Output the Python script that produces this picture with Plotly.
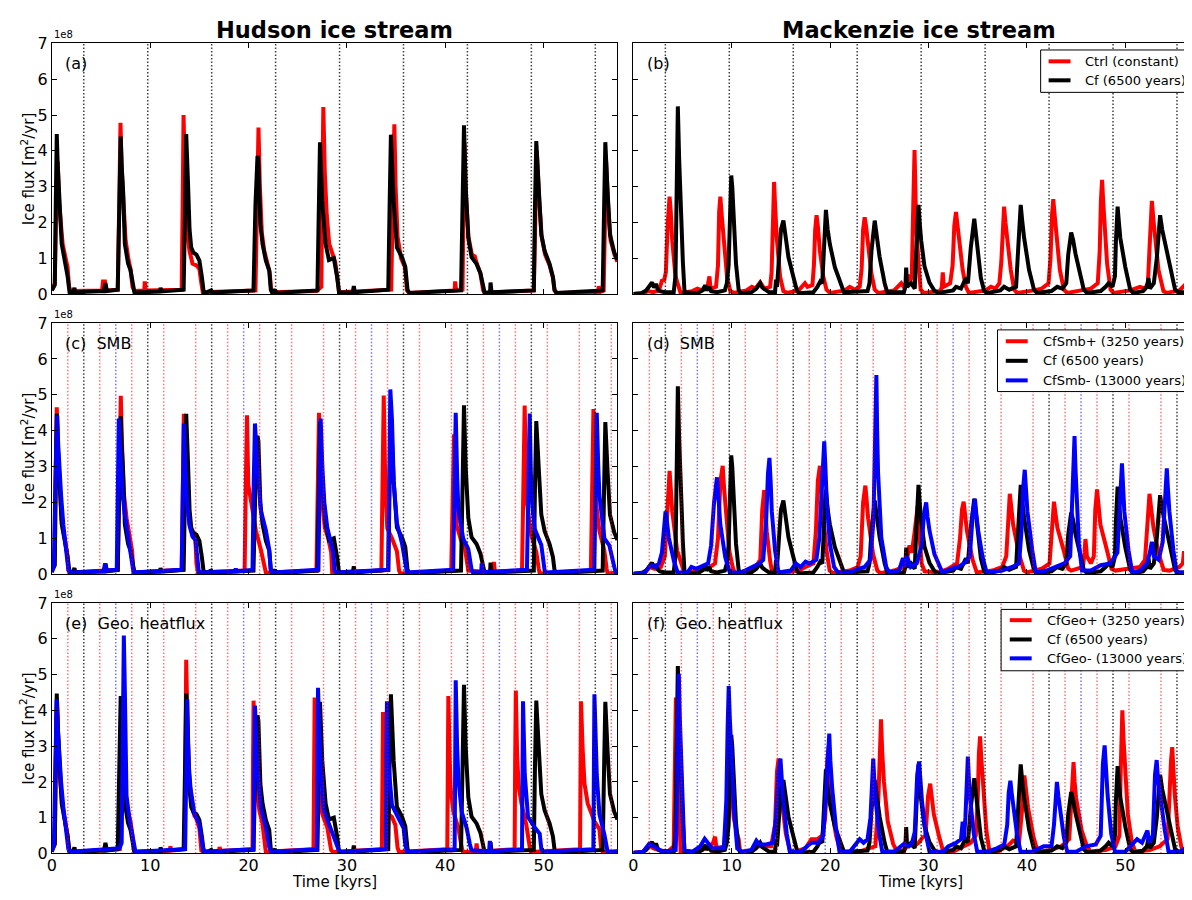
import plotly.graph_objects as go

FONT = "DejaVu Sans"

# ---------------- data: (time [kyr], ice flux [1e8 m^2/yr]) ----------------
HUD_CF = [
    (0.0, 0.10), (0.15, 0.2), (0.3, 0.25), (0.4, 2.5), (0.5, 4.47), (0.6, 3.6), (0.67, 3.2), (0.84, 2.1),
    (1.0, 1.4), (1.2, 1.1), (1.4, 0.85), (1.6, 0.5), (1.8, 0.05), (2.1, 0.03), (2.3, 0.17), (2.4, 0.04),
    (3.5, 0.06), (5.3, 0.08), (5.45, 0.3), (5.6, 0.08), (6.7, 0.12),
    (6.85, 2.0), (7.0, 4.40), (7.1, 3.6), (7.25, 2.85), (7.42, 1.4), (7.75, 0.85), (8.0, 0.66), (8.26, 0.12),
    (8.4, 0.04), (11.0, 0.07), (11.05, 0.17), (11.15, 0.07), (13.4, 0.12),
    (13.55, 2.5), (13.66, 4.47), (13.83, 3.2), (14.0, 1.8), (14.17, 1.3), (14.4, 1.15), (14.7, 1.1), (15.0, 0.93),
    (15.25, 0.48), (15.45, 0.03), (15.8, 0.05), (16.2, 0.1), (16.3, 0.04), (20.5, 0.1),
    (20.7, 2.5), (20.91, 3.86), (21.0, 3.7), (21.2, 1.95), (21.42, 1.4), (21.76, 0.93), (22.1, 0.66), (22.26, 0.12),
    (22.4, 0.03), (22.7, 0.12), (22.8, 0.03), (27.0, 0.1),
    (27.15, 2.5), (27.26, 4.24), (27.49, 2.6), (27.83, 1.4), (28.17, 0.95), (28.67, 1.0), (29.0, 0.48), (29.2, 0.04),
    (30.6, 0.05), (30.7, 0.22), (30.8, 0.05), (34.2, 0.12),
    (34.34, 2.5), (34.47, 4.45), (34.75, 2.6), (35.08, 1.3), (35.59, 1.03), (35.93, 0.76), (36.16, 0.12), (36.35, 0.03),
    (41.6, 0.1),
    (41.75, 2.5), (41.9, 4.71), (42.07, 3.0), (42.34, 1.57), (42.67, 1.03), (43.18, 0.84), (43.58, 0.57), (43.86, 0.12),
    (44.0, 0.03), (44.55, 0.05), (44.6, 0.32), (44.7, 0.05), (49.0, 0.1),
    (49.12, 2.5), (49.25, 4.27), (49.52, 2.85), (49.76, 1.66), (50.1, 1.2), (50.6, 0.84), (50.94, 0.48), (51.1, 0.12),
    (51.3, 0.03), (56.0, 0.1),
    (56.15, 2.5), (56.27, 4.24), (56.5, 2.85), (56.74, 1.66), (57.18, 1.16), (57.5, 0.95),
]

HUD_CTRL = [
    (0.0, 0.1), (0.3, 0.3), (0.45, 2.5), (0.6, 3.7), (0.75, 2.5), (0.9, 1.9), (1.1, 1.4), (1.4, 1.0), (1.6, 0.75),
    (1.75, 0.2), (1.9, 0.1), (2.2, 0.08), (5.1, 0.1), (5.2, 0.35), (5.4, 0.35), (5.5, 0.1), (6.7, 0.12),
    (6.85, 2.5), (6.98, 4.78), (7.1, 3.5), (7.3, 2.2), (7.5, 1.5), (7.8, 0.95), (8.0, 0.7), (8.2, 0.2), (8.4, 0.08),
    (9.4, 0.1), (9.45, 0.35), (9.55, 0.1), (13.2, 0.12),
    (13.3, 2.5), (13.39, 5.0), (13.55, 3.0), (13.8, 1.6), (14.0, 1.2), (14.3, 0.85), (14.7, 0.8), (15.0, 0.7),
    (15.2, 0.3), (15.35, 0.05), (20.7, 0.1),
    (20.85, 2.5), (21.01, 4.65), (21.15, 3.0), (21.35, 1.7), (21.6, 1.2), (21.9, 0.9), (22.15, 0.6), (22.3, 0.1),
    (22.5, 0.05), (26.9, 0.08),
    (27.4, 0.2), (27.5, 3.0), (27.6, 5.22), (27.75, 3.4), (27.95, 2.2), (28.2, 1.4), (28.5, 1.1), (28.8, 0.9),
    (29.05, 0.4), (29.2, 0.05), (34.5, 0.12),
    (34.65, 2.5), (34.82, 4.74), (34.95, 3.0), (35.15, 1.6), (35.5, 1.0), (35.9, 0.75), (36.1, 0.1), (36.3, 0.03),
    (40.95, 0.1), (41.0, 0.35), (41.1, 0.1), (41.75, 0.12),
    (41.85, 2.5), (41.95, 4.2), (42.1, 2.8), (42.35, 1.6), (42.7, 1.1), (43.0, 1.05), (43.2, 0.85), (43.55, 0.6),
    (43.85, 0.1), (44.0, 0.03), (49.0, 0.1),
    (49.15, 2.5), (49.3, 4.0), (49.55, 2.6), (49.8, 1.6), (50.15, 1.1), (50.6, 0.8), (50.95, 0.45), (51.1, 0.1),
    (51.3, 0.03), (55.55, 0.05), (55.6, 0.22), (55.7, 0.05), (56.1, 0.1),
    (56.2, 2.5), (56.35, 3.7), (56.55, 2.5), (56.8, 1.5), (57.2, 1.1), (57.5, 0.9),
]

HUD_SMBP = [
    (0.0, 0.1), (0.25, 0.3), (0.4, 3.0), (0.5, 4.65), (0.65, 3.3), (0.8, 2.3), (1.0, 1.5), (1.3, 1.0), (1.55, 0.6),
    (1.7, 0.1), (1.9, 0.05), (6.7, 0.12),
    (6.85, 2.5), (7.01, 4.97), (7.15, 3.5), (7.3, 2.3), (7.6, 1.56), (7.9, 1.0), (8.16, 0.65), (8.26, 0.2), (8.4, 0.05),
    (13.2, 0.12),
    (13.3, 2.5), (13.42, 4.47), (13.55, 3.5), (13.75, 2.2), (14.0, 1.4), (14.3, 1.1), (14.6, 0.95), (14.7, 0.3),
    (14.85, 0.05), (19.6, 0.1),
    (19.72, 2.5), (19.84, 4.43), (19.97, 2.5), (20.4, 1.77), (20.74, 1.22), (21.25, 0.68), (21.6, 0.3), (21.76, 0.04),
    (26.9, 0.1),
    (27.03, 2.5), (27.16, 4.5), (27.3, 3.0), (27.5, 2.0), (27.75, 1.3), (28.1, 1.0), (28.4, 0.6), (28.5, 0.05),
    (33.5, 0.1),
    (33.62, 2.5), (33.74, 4.98), (33.9, 2.5), (34.1, 1.28), (34.58, 1.0), (35.08, 0.64), (35.3, 0.1), (35.42, 0.02),
    (40.6, 0.1),
    (40.75, 2.5), (40.89, 3.9), (41.0, 2.5), (41.16, 1.35), (41.6, 0.95), (42.0, 0.71), (42.34, 0.1), (44.85, 0.05),
    (44.94, 0.34), (45.05, 0.05), (47.8, 0.1),
    (47.95, 2.5), (48.07, 4.7), (48.18, 3.0), (48.3, 1.98), (48.75, 1.08), (49.25, 0.62), (49.5, 0.15), (49.6, 0.02),
    (54.8, 0.1),
    (54.93, 2.5), (55.06, 4.6), (55.2, 3.0), (55.4, 1.8), (55.67, 1.2), (56.17, 0.66), (56.4, 0.15), (56.5, 0.02),
    (57.5, 0.05),
]

HUD_SMBM = [
    (0.0, 0.05), (0.2, 0.2), (0.4, 3.0), (0.55, 4.43), (0.65, 3.6), (0.74, 3.1), (0.94, 2.2), (1.17, 1.37),
    (1.5, 0.65), (1.68, 0.12), (1.9, 0.05), (5.3, 0.08), (5.4, 0.3), (5.55, 0.1), (6.6, 0.12),
    (6.7, 2.5), (6.81, 4.34), (6.9, 3.8), (7.0, 3.1), (7.2, 2.2), (7.42, 1.67), (7.93, 0.75), (8.16, 0.2), (8.3, 0.05),
    (13.2, 0.12),
    (13.3, 2.5), (13.42, 4.2), (13.55, 3.2), (13.75, 2.0), (14.0, 1.35), (14.3, 1.05), (14.6, 0.95), (14.8, 0.3),
    (14.95, 0.05), (18.6, 0.08), (18.7, 0.15), (18.8, 0.08), (20.4, 0.12),
    (20.52, 2.5), (20.65, 4.2), (20.91, 2.96), (21.25, 1.77), (21.76, 1.22), (22.1, 0.68), (22.26, 0.12), (22.4, 0.05),
    (27.1, 0.12),
    (27.22, 2.5), (27.33, 4.34), (27.5, 3.0), (27.7, 2.0), (28.0, 1.3), (28.3, 1.0), (28.6, 0.6), (28.75, 0.1),
    (28.9, 0.05), (34.2, 0.12),
    (34.3, 2.5), (34.41, 5.15), (34.58, 4.3), (34.75, 2.6), (35.08, 1.42), (35.59, 0.87), (35.93, 0.33), (36.1, 0.05),
    (40.8, 0.12),
    (40.93, 2.5), (41.06, 4.5), (41.2, 2.8), (41.33, 1.8), (41.83, 0.98), (42.34, 0.7), (42.67, 0.13), (42.8, 0.05),
    (43.65, 0.06), (43.7, 0.3), (43.8, 0.06), (48.3, 0.12),
    (48.45, 2.5), (48.58, 4.48), (48.7, 2.8), (48.85, 1.9), (49.09, 1.26), (49.76, 0.81), (50.1, 0.1), (50.25, 0.05),
    (55.15, 0.12),
    (55.28, 2.5), (55.4, 4.5), (55.55, 3.0), (55.67, 2.2), (56.17, 1.0), (56.68, 0.8), (57.18, 0.2), (57.35, 0.02),
    (57.5, 0.05),
]

HUD_GEOP = [
    (0.0, 0.1), (0.3, 0.3), (0.42, 3.0), (0.52, 4.3), (0.65, 3.2), (0.85, 2.0), (1.1, 1.3), (1.4, 0.9), (1.6, 0.5),
    (1.75, 0.08), (2.0, 0.05), (6.9, 0.12),
    (7.0, 2.5), (7.12, 4.2), (7.25, 3.0), (7.45, 1.8), (7.7, 1.2), (8.0, 0.9), (8.2, 0.5), (8.35, 0.08), (8.6, 0.05),
    (12.0, 0.08), (12.05, 0.2), (12.15, 0.08), (13.5, 0.12),
    (13.58, 2.5), (13.66, 5.41), (13.8, 3.5), (13.95, 2.2), (14.2, 1.4), (14.5, 1.05), (14.67, 0.99), (15.0, 0.7),
    (15.2, 0.08), (15.4, 0.05), (17.0, 0.07), (17.05, 0.18), (17.15, 0.07), (20.4, 0.12),
    (20.45, 2.5), (20.51, 4.27), (20.65, 2.8), (20.85, 1.8), (21.1, 1.2), (21.4, 0.85), (21.6, 0.4), (21.75, 0.05),
    (26.6, 0.12),
    (26.65, 2.5), (26.72, 4.36), (26.85, 3.0), (27.1, 1.8), (27.5, 1.1), (28.0, 0.73), (28.4, 0.09), (28.6, 0.04),
    (33.55, 0.12),
    (33.6, 2.5), (33.67, 3.95), (33.84, 2.43), (33.97, 1.16), (34.58, 1.02), (34.92, 0.8), (35.15, 0.16), (35.3, 0.04),
    (40.2, 0.12),
    (40.25, 2.5), (40.31, 4.4), (40.45, 2.6), (40.55, 1.8), (40.82, 1.17), (41.33, 0.71), (41.66, 0.18), (41.8, 0.04),
    (43.1, 0.05), (43.18, 0.28), (43.28, 0.05), (47.05, 0.12),
    (47.1, 2.5), (47.17, 4.55), (47.3, 2.8), (47.45, 1.9), (47.74, 1.4), (48.24, 0.8), (48.58, 0.18), (48.7, 0.04),
    (53.7, 0.12),
    (53.75, 2.5), (53.8, 4.25), (53.95, 3.0), (54.15, 1.95), (54.48, 1.4), (55.16, 0.9), (55.67, 0.68), (55.83, 0.18),
    (56.0, 0.04), (57.5, 0.05),
]

HUD_GEOM = [
    (0.0, 0.05), (0.2, 0.2), (0.4, 3.0), (0.5, 4.31), (0.62, 3.4), (0.74, 2.8), (0.94, 2.0), (1.17, 1.3),
    (1.5, 0.65), (1.68, 0.12), (1.9, 0.05), (6.9, 0.15), (7.1, 0.3),
    (7.2, 3.0), (7.32, 6.09), (7.42, 4.6), (7.49, 3.81), (7.59, 1.62), (7.93, 0.89), (8.16, 0.53), (8.36, 0.18),
    (8.5, 0.05), (13.55, 0.12),
    (13.65, 2.5), (13.77, 4.31), (13.9, 2.55), (14.1, 1.82), (14.5, 1.1), (15.0, 0.82), (15.35, 0.18), (15.5, 0.05),
    (20.5, 0.12),
    (20.57, 2.5), (20.65, 4.13), (20.91, 2.37), (21.25, 1.28), (21.76, 0.73), (22.1, 0.18), (22.3, 0.05),
    (26.95, 0.12),
    (27.0, 2.5), (27.06, 4.63), (27.2, 3.4), (27.33, 2.38), (27.66, 1.2), (28.33, 0.73), (28.84, 0.36), (29.17, 0.09),
    (29.4, 0.05), (33.95, 0.12),
    (34.0, 2.5), (34.07, 4.25), (34.24, 2.43), (34.58, 1.35), (35.25, 0.98), (35.76, 0.71), (35.93, 0.26), (36.1, 0.05),
    (40.95, 0.12),
    (41.0, 2.5), (41.06, 4.84), (41.2, 3.0), (41.33, 2.1), (41.66, 1.17), (42.17, 0.71), (42.5, 0.26), (42.67, 0.09),
    (44.45, 0.06), (44.53, 0.35), (44.62, 0.06), (47.8, 0.12),
    (47.85, 2.5), (47.9, 4.25), (48.08, 2.2), (48.41, 1.02), (49.09, 0.73), (49.6, 0.55), (49.76, 0.13), (49.9, 0.05),
    (55.05, 0.12),
    (55.1, 2.5), (55.16, 4.45), (55.4, 2.2), (55.67, 1.1), (56.17, 0.53), (56.34, 0.18), (56.5, 0.05), (57.5, 0.06),
]

MAC_CF = [
    (0.0, 0.0), (0.8, 0.02), (1.3, 0.1), (1.6, 0.21), (1.9, 0.32), (2.1, 0.18), (2.3, 0.28), (2.5, 0.12), (2.7, 0.08),
    (3.2, 0.05), (4.1, 0.05),
    (4.28, 0.5), (4.4, 3.0), (4.52, 5.24), (4.65, 3.8), (4.79, 2.5), (5.03, 0.9), (5.2, 0.05), (6.5, 0.02), (7.0, 0.1),
    (7.32, 0.24), (7.45, 0.1), (7.7, 0.2), (7.9, 0.08), (8.5, 0.05), (9.3, 0.1), (9.5, 0.3),
    (9.68, 0.8), (9.82, 2.5), (9.95, 3.31), (10.05, 3.0), (10.19, 1.94), (10.43, 0.85), (10.7, 0.12), (10.9, 0.02),
    (12.0, 0.05), (12.5, 0.15), (12.89, 0.3), (13.1, 0.18), (13.4, 0.12), (13.8, 0.05), (14.4, 0.05),
    (14.5, 0.4), (14.6, 0.2), (14.8, 1.0), (15.0, 1.8), (15.25, 2.05), (15.45, 1.6), (15.76, 1.03), (16.26, 0.48),
    (16.6, 0.12), (16.8, 0.02), (18.3, 0.05), (18.7, 0.2), (19.0, 0.35), (19.2, 0.3),
    (19.35, 1.2), (19.57, 2.35), (19.75, 1.8), (19.97, 1.39), (20.48, 0.75), (21.15, 0.2), (21.4, 0.05), (23.8, 0.08),
    (24.0, 0.3),
    (24.2, 1.2), (24.53, 2.05), (24.75, 1.6), (25.03, 1.03), (25.54, 0.3), (25.8, 0.05), (27.5, 0.05), (27.65, 0.2),
    (27.73, 0.74), (27.82, 0.2), (28.24, 0.3), (28.6, 0.15),
    (28.75, 1.2), (28.98, 2.49), (29.1, 2.0), (29.25, 1.5), (29.59, 0.77), (30.09, 0.32), (30.6, 0.09), (31.0, 0.03),
    (32.5, 0.1), (32.8, 0.2), (33.3, 0.15), (33.8, 0.44), (34.0, 0.3),
    (34.3, 1.3), (34.65, 2.1), (34.8, 1.7), (34.99, 1.16), (35.32, 0.44), (35.66, 0.08), (36.0, 0.03), (37.3, 0.1),
    (37.68, 0.2), (38.2, 0.12), (38.9, 0.2),
    (39.1, 1.2), (39.37, 2.49), (39.5, 2.1), (39.71, 1.58), (40.22, 0.67), (40.72, 0.12), (41.0, 0.03), (42.5, 0.08),
    (43.08, 0.2), (43.6, 0.15), (44.0, 0.3),
    (44.2, 1.1), (44.5, 1.72), (44.7, 1.5), (44.94, 1.12), (45.45, 0.49), (45.78, 0.12), (46.1, 0.03), (47.5, 0.08),
    (48.0, 0.2), (48.31, 0.3), (48.7, 0.2), (48.95, 0.5),
    (49.05, 1.5), (49.22, 2.44), (49.35, 2.0), (49.49, 1.57), (50.0, 0.75), (50.5, 0.12), (50.8, 0.03), (51.8, 0.08),
    (52.2, 0.2), (52.36, 0.44), (52.5, 0.15), (52.9, 0.3), (53.2, 1.0),
    (53.54, 2.2), (53.75, 1.8), (54.05, 1.39), (54.56, 0.67), (55.06, 0.12), (55.4, 0.05), (56.8, 0.05),
]

MAC_CTRL = [
    (0.0, 0.0), (1.0, 0.02), (1.5, 0.08), (2.0, 0.05), (2.6, 0.1), (2.94, 0.4), (3.1, 0.35), (3.3, 0.6),
    (3.5, 2.0), (3.68, 2.72), (3.8, 2.3), (3.95, 1.49), (4.28, 0.49), (4.62, 0.12), (4.8, 0.03), (6.0, 0.08),
    (6.5, 0.15), (7.0, 0.1), (7.5, 0.15), (7.73, 0.49), (7.85, 0.15), (8.4, 0.2), (8.6, 0.8),
    (8.72, 2.3), (8.84, 2.72), (8.98, 2.2), (9.18, 1.49), (9.52, 0.49), (9.85, 0.08), (10.2, 0.03), (11.5, 0.1),
    (12.04, 0.2), (12.4, 0.15), (12.89, 0.33), (13.3, 0.15), (13.9, 0.2), (14.05, 0.6),
    (14.18, 2.5), (14.3, 3.13), (14.42, 2.4), (14.57, 1.58), (14.91, 0.49), (15.25, 0.08), (15.6, 0.03), (16.8, 0.1),
    (17.44, 0.3), (17.7, 0.2), (18.2, 0.25), (18.35, 0.8),
    (18.48, 1.8), (18.62, 2.2), (18.75, 1.9), (18.96, 1.21), (19.3, 0.49), (19.63, 0.12), (20.0, 0.03), (21.5, 0.1),
    (22.0, 0.2), (22.5, 0.12), (23.0, 0.2), (23.2, 0.7),
    (23.35, 1.8), (23.51, 2.14), (23.65, 1.9), (23.86, 1.39), (24.19, 0.58), (24.53, 0.12), (24.9, 0.03), (26.5, 0.1),
    (27.23, 0.3), (27.6, 0.15), (27.96, 0.54), (28.1, 0.3), (28.3, 0.5),
    (28.45, 2.5), (28.58, 4.02), (28.66, 3.0), (28.74, 1.94), (28.98, 0.85), (29.2, 0.12), (29.5, 0.03), (31.2, 0.08),
    (31.35, 0.2), (31.45, 0.6), (31.55, 0.2), (32.2, 0.3), (32.45, 0.8),
    (32.62, 1.9), (32.79, 2.29), (32.95, 1.9), (33.13, 1.49), (33.47, 0.67), (33.8, 0.2), (34.1, 0.03), (35.8, 0.1),
    (36.34, 0.2), (36.8, 0.15), (37.2, 0.3), (37.4, 0.9),
    (37.55, 2.0), (37.68, 2.44), (37.82, 2.0), (38.03, 1.49), (38.36, 0.67), (38.7, 0.12), (39.0, 0.03), (40.7, 0.1),
    (41.5, 0.15), (42.2, 0.3), (42.4, 1.0),
    (42.55, 2.2), (42.68, 2.65), (42.82, 2.2), (43.02, 1.58), (43.35, 0.67), (43.76, 0.12), (44.1, 0.03), (45.5, 0.1),
    (46.5, 0.15), (47.2, 0.3), (47.4, 1.2),
    (47.52, 2.6), (47.64, 3.19), (47.75, 2.6), (47.87, 1.94), (48.15, 0.85), (48.5, 0.12), (48.8, 0.03), (50.5, 0.1),
    (51.5, 0.2), (52.0, 0.15), (52.3, 0.3), (52.45, 1.2),
    (52.58, 2.2), (52.7, 2.6), (52.85, 2.1), (53.04, 1.58), (53.37, 0.67), (53.88, 0.08), (54.2, 0.03), (55.5, 0.1),
    (56.24, 0.3), (56.5, 0.15), (56.8, 0.1),
]

MAC_SMBP = [
    (0.0, 0.0), (1.2, 0.05), (1.6, 0.2), (2.2, 0.15), (2.8, 0.2), (3.2, 0.5), (3.4, 1.5),
    (3.55, 2.5), (3.68, 2.88), (3.8, 2.4), (3.95, 1.75), (4.45, 0.66), (4.96, 0.2), (5.2, 0.03), (6.5, 0.08),
    (7.5, 0.15), (8.3, 0.3), (8.6, 1.0),
    (8.85, 2.6), (9.08, 3.02), (9.22, 2.4), (9.41, 1.65), (9.75, 0.65), (10.09, 0.2), (10.3, 0.03), (11.5, 0.1),
    (12.4, 0.2), (12.9, 0.4),
    (13.1, 1.8), (13.3, 2.34), (13.42, 1.8), (13.56, 1.19), (13.9, 0.37), (14.1, 0.05), (15.5, 0.05), (16.8, 0.1),
    (17.5, 0.2), (18.3, 0.3), (18.55, 1.2),
    (18.75, 2.6), (18.96, 3.02), (19.06, 2.6), (19.2, 1.93), (19.64, 0.65), (19.95, 0.1), (20.3, 0.03), (22.0, 0.1),
    (22.8, 0.2), (23.1, 0.5),
    (23.35, 2.0), (23.58, 2.47), (23.7, 2.1), (23.86, 1.56), (24.36, 0.56), (24.8, 0.1), (25.1, 0.03), (26.5, 0.1),
    (27.5, 0.2), (27.8, 0.4), (28.07, 0.8), (28.3, 0.6),
    (28.6, 1.2), (28.9, 1.9), (29.1, 1.0), (29.3, 0.3), (29.6, 0.08), (31.0, 0.05), (32.0, 0.15), (32.9, 0.3),
    (33.2, 1.0),
    (33.4, 1.8), (33.57, 2.02), (33.72, 1.7), (33.9, 1.21), (34.48, 0.4), (34.9, 0.05), (36.5, 0.1), (37.5, 0.2),
    (37.9, 0.5),
    (38.1, 1.8), (38.26, 2.24), (38.4, 1.9), (38.6, 1.38), (39.2, 0.56), (39.7, 0.1), (40.0, 0.05), (41.5, 0.15),
    (42.3, 0.3), (42.5, 1.0),
    (42.62, 1.7), (42.75, 2.02), (42.9, 1.7), (43.1, 1.29), (43.75, 0.65), (44.2, 0.15), (44.5, 0.1), (45.7, 0.2),
    (45.85, 0.6), (45.95, 0.98), (46.1, 0.5), (46.5, 0.3), (46.8, 0.5),
    (46.95, 1.8), (47.13, 2.36), (47.28, 1.9), (47.47, 1.38), (48.15, 0.65), (48.6, 0.15), (49.0, 0.1), (50.5, 0.15),
    (51.5, 0.2), (52.0, 0.4), (52.2, 1.2),
    (52.33, 1.9), (52.46, 2.24), (52.6, 1.9), (52.87, 1.29), (53.4, 0.56), (53.9, 0.12), (54.5, 0.1), (55.5, 0.2),
    (55.85, 0.3), (55.97, 0.64), (56.1, 0.3), (56.4, 0.5), (56.6, 1.2), (56.8, 2.0),
]

MAC_SMBM = [
    (0.0, 0.02), (1.2, 0.05), (1.6, 0.2), (1.9, 0.25), (2.3, 0.2), (2.6, 0.3), (2.9, 0.6),
    (3.1, 1.4), (3.27, 1.75), (3.4, 1.5), (3.6, 1.02), (4.12, 0.37), (4.5, 0.05), (5.5, 0.05), (5.9, 0.2),
    (6.4, 0.15), (7.1, 0.25), (7.6, 0.3), (7.9, 0.8),
    (8.2, 2.0), (8.5, 2.7), (8.65, 2.2), (8.84, 1.38), (9.34, 0.47), (9.8, 0.05), (11.0, 0.05), (12.2, 0.2),
    (12.8, 0.3), (13.2, 0.4), (13.5, 1.5),
    (13.68, 2.8), (13.83, 3.24), (13.95, 2.6), (14.07, 1.75), (14.4, 0.66), (14.75, 0.05), (16.0, 0.1), (16.5, 0.3),
    (17.0, 0.2), (17.5, 0.35), (17.9, 0.3), (18.6, 0.4), (18.9, 1.0),
    (19.2, 3.0), (19.4, 3.7), (19.5, 3.1), (19.64, 2.12), (19.97, 0.85), (20.4, 0.2), (20.8, 0.05), (22.0, 0.05),
    (22.9, 0.15), (23.5, 0.2), (24.1, 0.4), (24.4, 1.5),
    (24.55, 3.5), (24.7, 5.55), (24.78, 4.0), (24.87, 2.84), (25.2, 1.02), (25.7, 0.2), (26.0, 0.05), (27.0, 0.1),
    (27.4, 0.45), (27.6, 0.2), (27.8, 0.5), (28.2, 0.2), (28.8, 0.3), (29.3, 0.8),
    (29.55, 1.7), (29.76, 2.0), (29.9, 1.6), (30.1, 1.21), (30.6, 0.56), (31.1, 0.2), (31.4, 0.05), (32.3, 0.15),
    (33.0, 0.2), (33.6, 0.3), (34.2, 0.5),
    (34.5, 1.7), (34.72, 2.1), (34.85, 1.7), (35.05, 1.21), (35.5, 0.47), (35.9, 0.05), (37.5, 0.1), (38.5, 0.2),
    (39.2, 0.3), (39.45, 1.2),
    (39.62, 2.4), (39.78, 2.91), (39.9, 2.4), (40.05, 1.75), (40.55, 0.66), (40.9, 0.05), (42.0, 0.1), (43.0, 0.2),
    (43.8, 0.3), (44.4, 0.5), (44.6, 2.0),
    (44.75, 3.3), (44.84, 3.85), (44.93, 3.0), (45.04, 2.1), (45.28, 0.85), (45.6, 0.1), (46.5, 0.1), (47.5, 0.25),
    (48.5, 0.3), (49.2, 0.6), (49.45, 2.0),
    (49.58, 2.8), (49.66, 3.09), (49.75, 2.6), (49.9, 1.75), (50.33, 0.66), (50.7, 0.05), (51.5, 0.1), (52.2, 0.3),
    (52.5, 0.6), (52.7, 0.9), (52.9, 0.5), (53.4, 0.4), (53.8, 0.9),
    (54.05, 2.3), (54.22, 2.95), (54.33, 2.4), (54.48, 1.75), (54.89, 0.66), (55.2, 0.05), (56.0, 0.05), (56.5, 0.1),
    (56.8, 0.1),
]

MAC_GEOP = [
    (0.0, 0.02), (1.0, 0.05), (1.6, 0.23), (2.0, 0.15), (2.5, 0.1), (3.5, 0.05), (4.1, 0.2),
    (4.2, 2.5), (4.32, 4.36), (4.45, 3.0), (4.62, 1.1), (4.8, 0.05), (6.5, 0.05), (7.3, 0.15), (7.8, 0.2),
    (8.1, 0.3), (8.3, 0.47), (8.45, 0.15), (9.2, 0.2), (9.5, 1.0),
    (9.75, 3.5), (9.95, 2.0), (10.2, 1.0), (10.5, 0.6), (10.7, 0.4), (10.85, 0.05), (12.0, 0.05), (12.5, 0.2),
    (13.2, 0.2), (14.0, 0.2), (14.4, 0.8),
    (14.6, 2.3), (14.76, 2.65), (14.9, 2.1), (15.06, 1.55), (15.5, 0.55), (15.9, 0.1), (16.3, 0.03), (17.5, 0.15),
    (18.1, 0.4), (18.7, 0.4), (19.2, 0.5), (19.5, 1.0),
    (19.7, 2.6), (19.85, 3.0), (20.0, 2.2), (20.2, 1.2), (20.6, 0.5), (21.0, 0.1), (21.3, 0.03), (23.0, 0.05),
    (24.0, 0.15), (24.6, 0.2), (24.9, 1.5),
    (25.05, 3.0), (25.17, 3.75), (25.3, 2.8), (25.47, 2.0), (25.85, 0.9), (26.4, 0.27), (26.8, 0.05), (27.5, 0.1),
    (28.0, 0.25), (28.5, 0.2), (29.0, 0.3), (29.4, 0.45), (29.7, 0.5),
    (29.95, 1.6), (30.17, 1.95), (30.35, 1.6), (30.54, 1.09), (31.1, 0.45), (31.5, 0.05), (32.5, 0.05), (33.5, 0.2),
    (34.3, 0.3), (34.8, 0.5), (35.0, 1.5),
    (35.12, 2.8), (35.24, 3.27), (35.38, 2.6), (35.54, 1.82), (35.88, 0.64), (36.2, 0.05), (37.0, 0.05), (38.0, 0.2),
    (38.6, 0.36), (39.2, 0.3), (39.5, 1.2),
    (39.62, 1.9), (39.74, 2.18), (39.9, 1.8), (40.12, 1.27), (40.68, 0.45), (41.1, 0.05), (42.5, 0.1), (43.5, 0.2),
    (44.3, 0.4), (44.5, 1.5),
    (44.62, 2.2), (44.74, 2.55), (44.85, 2.0), (45.0, 1.55), (45.57, 0.64), (46.13, 0.18), (46.5, 0.05), (48.0, 0.1),
    (49.0, 0.2), (49.4, 0.5), (49.55, 2.5),
    (49.62, 3.5), (49.7, 4.0), (49.82, 3.2), (49.96, 2.36), (50.26, 1.09), (50.64, 0.36), (51.0, 0.05), (52.5, 0.1),
    (53.5, 0.2), (54.3, 0.4), (54.5, 1.8),
    (54.65, 2.6), (54.77, 2.97), (54.9, 2.3), (55.03, 1.64), (55.33, 0.73), (55.7, 0.18), (56.0, 0.05), (56.3, 0.25),
    (56.8, 0.05),
]

MAC_GEOM = [
    (0.0, 0.02), (1.0, 0.05), (1.6, 0.27), (2.0, 0.2), (2.4, 0.15), (3.0, 0.05), (4.3, 0.1), (4.45, 1.5),
    (4.52, 3.5), (4.62, 5.02), (4.72, 3.8), (4.81, 2.9), (5.0, 1.1), (5.18, 0.09), (6.0, 0.05), (6.8, 0.2),
    (7.25, 0.41), (7.6, 0.3), (8.0, 0.15), (9.2, 0.15), (9.45, 1.5),
    (9.58, 3.5), (9.69, 4.68), (9.8, 3.8), (9.95, 2.9), (10.26, 1.1), (10.56, 0.14), (11.0, 0.05), (12.0, 0.1),
    (12.5, 0.36), (12.8, 0.25), (13.5, 0.25), (14.2, 0.3), (14.5, 1.0),
    (14.75, 2.3), (14.95, 2.65), (15.08, 2.1), (15.21, 1.55), (15.59, 0.55), (15.9, 0.05), (17.0, 0.05), (18.1, 0.3),
    (18.8, 0.3), (19.3, 0.5), (19.55, 1.5),
    (19.75, 2.9), (19.91, 3.35), (20.02, 2.6), (20.21, 1.82), (20.59, 0.73), (20.95, 0.05), (22.0, 0.05), (23.0, 0.4),
    (23.4, 0.3), (23.8, 0.4), (24.1, 1.0),
    (24.25, 2.2), (24.38, 2.65), (24.48, 2.1), (24.6, 1.55), (24.98, 0.55), (25.3, 0.05), (26.5, 0.05), (27.5, 0.27),
    (28.0, 0.2), (28.3, 0.27), (28.6, 0.6),
    (28.85, 2.2), (29.04, 2.57), (29.18, 2.0), (29.34, 1.45), (29.71, 0.55), (30.1, 0.05), (31.5, 0.05), (32.0, 0.2),
    (32.8, 0.3), (33.3, 0.4), (33.47, 0.89), (33.6, 0.4), (33.75, 1.0),
    (33.88, 2.3), (34.0, 2.71), (34.1, 2.1), (34.22, 1.55), (34.6, 0.55), (34.95, 0.05), (36.0, 0.05), (37.0, 0.15),
    (37.7, 0.25), (38.0, 0.8),
    (38.15, 1.7), (38.32, 2.03), (38.45, 1.7), (38.62, 1.27), (38.99, 0.55), (39.35, 0.05), (40.5, 0.05), (41.7, 0.2),
    (42.5, 0.2), (42.75, 0.8),
    (42.9, 1.7), (43.05, 2.0), (43.2, 1.6), (43.39, 1.18), (43.76, 0.45), (44.1, 0.05), (45.0, 0.05), (46.0, 0.2),
    (47.0, 0.25), (47.5, 0.5),
    (47.72, 2.5), (47.9, 3.02), (48.02, 2.3), (48.2, 1.64), (48.57, 0.55), (48.95, 0.05), (50.0, 0.05), (51.2, 0.4),
    (51.7, 0.3), (52.25, 0.64), (52.45, 0.3), (52.8, 0.5),
    (53.02, 2.2), (53.19, 2.61), (53.32, 2.1), (53.53, 1.64), (54.02, 0.64), (54.4, 0.05), (55.5, 0.05), (56.2, 0.15),
    (56.4, 0.41), (56.55, 0.15), (56.8, 0.1),
]

# forcing maxima (kyr) for the three forcing periods
FORCING_3250 = [1.625, 4.875, 8.125, 11.375, 14.625, 17.875, 21.125, 24.375, 27.625, 30.875,
                34.125, 37.375, 40.625, 43.875, 47.125, 50.375, 53.625, 56.875]
FORCING_6500 = [3.25, 9.75, 16.25, 22.75, 29.25, 35.75, 42.25, 48.75, 55.25]
FORCING_13000 = [6.5, 19.5, 32.5, 45.5]

X_TICKS = [0, 10, 20, 30, 40, 50]
Y_TICKS = [0, 1, 2, 3, 4, 5, 6, 7]

# ---------------- layout geometry (screen pixels; page body has an 8px margin) ----------------
OFF = 8
W, H = 1192 - OFF, 900 - OFF
def px(x):
    return (x - OFF) / W
def py(y):
    return 1 - (y - OFF) / H

COLS = {"L": (47, 615), "R": (631, 1192)}
ROWS = [(35, 291), (320.7, 577.3), (606.7, 862.7)]
XRANGE = {"L": [0, 57.5], "R": [0, 56.78]}

RED, BLACK, BLUE = "#ff0000", "#000000", "#0000ff"
DOT = {RED: "rgba(255,0,0,0.55)", BLACK: "rgba(0,0,0,0.75)", BLUE: "rgba(0,0,255,0.55)"}

panels = [
    # idx, col, row, label, series, forcing, legend box geometry
    (1, "L", 0, "(a)", [(HUD_CTRL, RED, "Ctrl (constant)"), (HUD_CF, BLACK, "Cf (6500 years)")],
     [(FORCING_6500, BLACK)], None),
    (2, "R", 0, "(b)", [(MAC_CTRL, RED, "Ctrl (constant)"), (MAC_CF, BLACK, "Cf (6500 years)")],
     [(FORCING_6500, BLACK)], dict(x0=1040, y0=41.7, y1=85, sx=1048, tx=1083, rows=[53.3, 72.7])),
    (3, "L", 1, "(c)\u00a0\u00a0SMB", [(HUD_SMBP, RED, "CfSmb+ (3250 years)"), (HUD_CF, BLACK, "Cf (6500 years)"),
                              (HUD_SMBM, BLUE, "CfSmb- (13000 years)")],
     [(FORCING_3250, RED), (FORCING_6500, BLACK), (FORCING_13000, BLUE)], None),
    (4, "R", 1, "(d)\u00a0\u00a0SMB", [(MAC_SMBP, RED, "CfSmb+ (3250 years)"), (MAC_CF, BLACK, "Cf (6500 years)"),
                              (MAC_SMBM, BLUE, "CfSmb- (13000 years)")],
     [(FORCING_3250, RED), (FORCING_6500, BLACK), (FORCING_13000, BLUE)],
     dict(x0=996.7, y0=327.7, y1=390.7, sx=1005, tx=1040, rows=[339.3, 359.3, 379.3])),
    (5, "L", 2, "(e)\u00a0\u00a0Geo. heatflux", [(HUD_GEOP, RED, "CfGeo+ (3250 years)"), (HUD_CF, BLACK, "Cf (6500 years)"),
                                       (HUD_GEOM, BLUE, "CfGeo- (13000 years)")],
     [(FORCING_3250, RED), (FORCING_6500, BLACK), (FORCING_13000, BLUE)], None),
    (6, "R", 2, "(f)\u00a0\u00a0Geo. heatflux", [(MAC_GEOP, RED, "CfGeo+ (3250 years)"), (MAC_CF, BLACK, "Cf (6500 years)"),
                                       (MAC_GEOM, BLUE, "CfGeo- (13000 years)")],
     [(FORCING_3250, RED), (FORCING_6500, BLACK), (FORCING_13000, BLUE)],
     dict(x0=1000.3, y0=613.3, y1=676, sx=1009, tx=1044, rows=[624.3, 644, 663.3])),
]

fig = go.Figure()
layout = {}
annotations = []
shapes = []
tickfont = dict(family=FONT, size=16, color="black")

for idx, col, row, label, series, forcing, leg in panels:
    sx = "" if idx == 1 else str(idx)
    xref, yref = "x" + sx, "y" + sx
    for data, color, name in series:
        t = [p[0] for p in data]
        v = [p[1] for p in data]
        fig.add_trace(go.Scatter(x=t, y=v, mode="lines", name=name, xaxis=xref, yaxis=yref, showlegend=False,
                                 line=dict(color=color, width=4), hoverinfo="skip"))
    for times, color in forcing:
        xs, ys = [], []
        for tt in times:
            if tt <= XRANGE[col][1]:
                xs += [tt, tt, None]
                ys += [0, 7, None]
        fig.add_trace(go.Scatter(x=xs, y=ys, mode="lines", xaxis=xref, yaxis=yref, showlegend=False,
                                 hoverinfo="skip", line=dict(color=DOT[color], width=1.5, dash="1.5px,2px")))
    c0, c1 = COLS[col]
    r0, r1 = ROWS[row]
    bottom = row == 2
    xaxis = dict(
        domain=[px(c0), px(c1)], range=XRANGE[col], anchor=yref, tickvals=X_TICKS,
        showticklabels=bottom, ticks="inside", ticklen=5, tickcolor="black", showline=True,
        linecolor="black", linewidth=1, mirror="ticks", showgrid=False, zeroline=False, tickfont=tickfont)
    if bottom:
        xaxis["ticklabelstandoff"] = -3
    layout["xaxis" + sx] = xaxis
    layout["yaxis" + sx] = dict(
        domain=[py(r1), py(r0)], range=[0, 7], anchor=xref, tickvals=Y_TICKS,
        showticklabels=(col == "L"), ticks="inside", ticklen=5, tickcolor="black", showline=True,
        linecolor="black", linewidth=1, mirror=("ticks" if col == "L" else False), showgrid=False,
        zeroline=False, tickfont=tickfont)
    # panel label
    lx = 58 if col == "L" else 643
    annotations.append(dict(text=label, x=px(lx), y=py(r0 + 21), xref="paper", yref="paper",
                            xanchor="left", yanchor="middle", showarrow=False,
                            font=dict(family=FONT, size=16, color="black")))
    if col == "L":
        annotations.append(dict(text="1e8", x=px(47), y=py(r0 - 1), xref="paper", yref="paper",
                                xanchor="left", yanchor="bottom", showarrow=False,
                                font=dict(family=FONT, size=10, color="black")))
        annotations.append(dict(text="Ice flux [m<sup>2</sup>/yr]", x=px(22.5), y=py((r0 + r1) / 2),
                                xref="paper", yref="paper", textangle=-90, showarrow=False,
                                xanchor="center", yanchor="middle",
                                font=dict(family=FONT, size=15, color="black")))
    # legend (box, line samples and labels)
    if leg:
        shapes.append(dict(type="rect", xref="paper", yref="paper", x0=px(leg["x0"]), x1=px(1200),
                           y0=py(leg["y1"]), y1=py(leg["y0"]), line=dict(color="black", width=1),
                           fillcolor="white", layer="above"))
        for (data, color, name), ry in zip(series, leg["rows"]):
            shapes.append(dict(type="line", xref="paper", yref="paper", x0=px(leg["sx"]), x1=px(leg["sx"] + 22),
                               y0=py(ry), y1=py(ry), line=dict(color=color, width=4), layer="above"))
            annotations.append(dict(text=name, x=px(leg["tx"]), y=py(ry), xref="paper", yref="paper",
                                    xanchor="left", yanchor="middle", showarrow=False,
                                    font=dict(family=FONT, size=13, color="black")))

# column titles and x labels
annotations.append(dict(text="<b>Hudson ice stream</b>", x=px(331), y=py(21), xref="paper", yref="paper",
                        showarrow=False, xanchor="center", yanchor="middle",
                        font=dict(family=FONT, size=22.5, color="black")))
annotations.append(dict(text="<b>Mackenzie ice stream</b>", x=px(918), y=py(21), xref="paper", yref="paper",
                        showarrow=False, xanchor="center", yanchor="middle",
                        font=dict(family=FONT, size=22.5, color="black")))
for cx in (331, 919):
    annotations.append(dict(text="Time [kyrs]", x=px(cx), y=py(892), xref="paper", yref="paper",
                            showarrow=False, xanchor="center", yanchor="middle",
                            font=dict(family=FONT, size=15, color="black")))

fig.update_layout(
    width=W, height=H, margin=dict(l=0, r=0, t=0, b=0), paper_bgcolor="white", plot_bgcolor="white",
    font=dict(family=FONT, color="black"), annotations=annotations, shapes=shapes, showlegend=False, **layout)

fig.write_html("out.html")
